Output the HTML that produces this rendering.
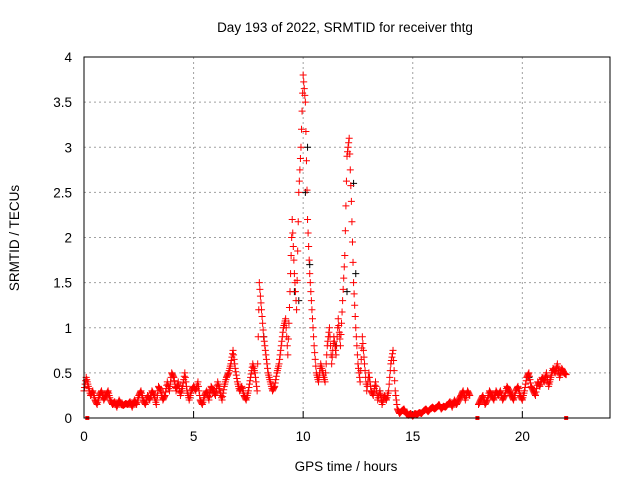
<!DOCTYPE html>
<html><head><meta charset="utf-8"><style>
body{margin:0;background:#fff}
svg{display:block;font-family:"Liberation Sans",sans-serif;font-size:13.5px}
</style></head><body>
<svg id="c" width="640" height="480">
<text x="345" y="32" text-anchor="middle">Day 193 of 2022, SRMTID for receiver thtg</text>
<text x="346" y="471" text-anchor="middle">GPS time / hours</text>
<text transform="translate(19,238) rotate(-90)" text-anchor="middle">SRMTID / TECUs</text>
<g id="grid"></g><g id="ticks"></g><g id="black"></g><g id="red"></g>
<rect x="84" y="57" width="526" height="361" fill="none" stroke="#000" stroke-width="1"/>
</svg>
<script>
const xTicks=[0,5,10,15,20];
const yTicks=[0,0.5,1,1.5,2,2.5,3,3.5,4];
const yTickLabels=["0","0.5","1","1.5","2","2.5","3","3.5","4"];
const startHour=0, step=0.1;
const redValues=[0.3,0.45,0.35,0.25,0.3,0.2,0.15,0.25,0.3,0.2,
0.25,0.3,0.2,0.15,0.18,0.12,0.2,0.15,0.14,0.16,
0.15,0.18,0.12,0.2,0.15,0.25,0.3,0.2,0.15,0.25,
0.2,0.3,0.25,0.15,0.35,0.3,0.2,0.25,0.4,0.3,
0.5,0.45,0.3,0.4,0.25,0.35,0.5,0.3,0.2,0.3,
0.35,0.3,0.4,0.2,0.15,0.25,0.3,0.2,0.35,0.3,
0.25,0.4,0.3,0.2,0.35,0.45,0.5,0.6,0.75,0.55,
0.4,0.3,0.35,0.25,0.2,0.3,0.45,0.6,0.5,0.3,
1.5,1.2,0.9,0.7,0.5,0.4,0.3,0.35,0.5,0.6,
0.8,1.0,1.1,0.7,1.4,2.2,1.6,1.2,2.5,3.0,
3.8,3.5,2.2,1.6,1.2,0.8,0.5,0.4,0.6,0.5,
0.4,0.8,1.0,0.6,0.9,0.7,1.1,0.8,1.3,1.8,
2.9,3.1,2.4,1.5,1.0,0.6,0.4,0.9,0.6,0.3,
0.5,0.3,0.25,0.4,0.2,0.3,0.15,0.25,0.2,0.3,
0.6,0.75,0.3,0.1,0.05,0.08,0.1,0.05,0.03,0.05,
0.02,0.05,0.04,0.06,0.05,0.08,0.1,0.07,0.1,0.12,
0.1,0.12,0.15,0.1,0.13,0.12,0.15,0.18,0.12,0.2,
0.15,0.2,0.25,0.3,0.2,0.3,0.25,null,null,null,
0.15,0.2,0.25,0.15,0.2,0.3,0.25,0.2,0.3,0.25,
0.3,0.2,0.25,0.35,0.3,0.25,0.2,0.3,0.35,0.25,
0.2,0.3,0.45,0.5,0.35,0.3,0.25,0.4,0.35,0.45,
0.4,0.5,0.35,0.45,0.55,0.5,0.6,0.45,0.55,0.5,
0.48];
const zeroMarkTimes=[0.15,17.95,22.0];
const blackTimes=[9.6,9.8,10.1,10.2,10.3,12.0,12.3,12.4,8.2,11.5,13.5,20.3];
const blackValues=[1.4,1.3,2.5,3.0,1.7,1.4,2.6,1.6,0.9,0.8,0.3,0.45];
const svg=document.getElementById('c');
const NS='http://www.w3.org/2000/svg';
const X=h=>84+h*(526/24);
const Y=v=>418-v*(361/4);
function mk(tag,a,parent){const e=document.createElementNS(NS,tag);for(const k in a)e.setAttribute(k,a[k]);document.getElementById(parent).appendChild(e);return e;}
xTicks.forEach(t=>{
 if(t>0){const g=mk('line',{x1:X(t),x2:X(t),y1:57,y2:418,stroke:'#a0a0a0','stroke-dasharray':'2,3'},'grid');
 
 }
 const tk=mk('line',{x1:X(t),x2:X(t),y1:418,y2:411,stroke:'#000'},'ticks');
 
 
 const l=mk('text',{x:X(t),y:441,'text-anchor':'middle'},'ticks');l.textContent=String(t);
 
 
});
yTicks.forEach((t,i)=>{
 if(t>0&&t<4){const g=mk('line',{x1:84,x2:610,y1:Y(t),y2:Y(t),stroke:'#a0a0a0','stroke-dasharray':'2,3'},'grid');
 
 }
 const l=mk('text',{x:72,y:Y(t)+5,'text-anchor':'end'},'ticks');l.textContent=yTickLabels[i];
 
 
});
function cross(h,v,col,parent){
 const x=X(h),y=Y(v);
 const p=mk('path',{d:`M${x-3.5},${y}h7M${x},${y-3.5}v7`,stroke:col,'stroke-width':1,fill:'none'},parent);
 
 
}
blackTimes.forEach((t,i)=>cross(t,blackValues[i],'#000','black'));
for(let i=0;i<redValues.length;i++){
 const v=redValues[i];if(v==null)continue;
 const t=startHour+i*step;
 cross(t,v,'#f00','red');
 const n=redValues[i+1];
 if(n!=null&&i+1<redValues.length){
  for(let k=1;k<4;k++){const f=k/4;cross(t+f*step,v+(n-v)*f,'#f00','red');}
 }
}
zeroMarkTimes.forEach(t=>{const r=mk('rect',{x:X(t)-2,y:Y(0)-2,width:4,height:4,fill:'#f00'},'red');
 
 });
</script>
</body></html>
